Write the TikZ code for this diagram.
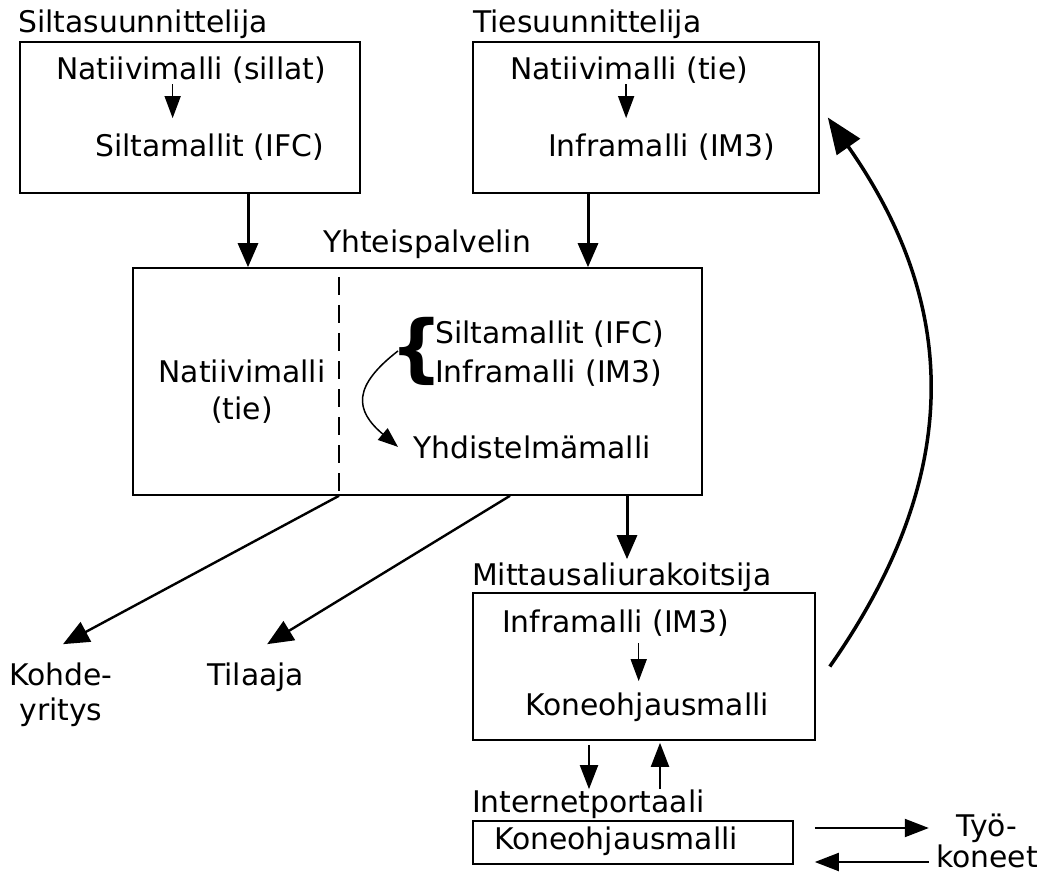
\documentclass[tikz,border=0pt]{standalone}
\usepackage{fontspec}
\setmainfont{DejaVu Sans}
\usetikzlibrary{arrows.meta}

\begin{document}
\begin{tikzpicture}[x=1pt,y=-1pt]
  \tikzset{box/.style = {draw,line width=1.6pt,inner sep=0pt}}
  \tikzset{txt/.style = {font=\fontsize{29.8}{36}\selectfont,inner sep=0pt,anchor=base west}}
  \tikzset{two/.style = {font=\fontsize{29.8}{#1}\selectfont,inner sep=0pt,anchor=base,align=center}}
  \tikzset{bigarrow/.style = {line width=3pt,-{Triangle[length=24pt,width=20pt]}}}
  \tikzset{diagarrow/.style = {line width=2.4pt,-{Triangle[length=26pt,width=22pt]}}}
  \tikzset{midarrow/.style = {line width=2pt,-{Triangle[length=24pt,width=18pt]}}}
  \tikzset{smallarrow/.style = {line width=1.5pt,-{Triangle[length=22pt,width=16pt]}}}
  \tikzset{thinarrow/.style = {line width=1.5pt,-{Triangle[length=20pt,width=15pt]}}}
  \tikzset{backarrow/.style = {line width=3.5pt,-{Triangle[length=36pt,width=28pt]}}}

  \useasboundingbox (0,0) rectangle (1046,874);

	\node[box,minimum width=340pt,minimum height=151pt] (silta) at (190,117.5) {};
	\node[box,minimum width=346pt,minimum height=151pt] (tie) at (646,117.5) {};
	\node[box,minimum width=569pt,minimum height=227pt] (yht) at (417.5,381.5) {};
	\node[box,minimum width=342pt,minimum height=147pt] (mit) at (644,666.5) {};
	\node[box,minimum width=320pt,minimum height=43pt] (portaali) at (633,842.5) {};

	\node[txt] (siltaLbl) at (18,33) {Siltasuunnittelija};
	\node[txt] (natSil) at (56,80) {Natiivimalli (sillat)};
	\node[txt] (silIfc) at (95,157) {Siltamallit (IFC)};
	\node[txt] (tieLbl) at (473,33) {Tiesuunnittelija};
	\node[txt] (natTie) at (510,80) {Natiivimalli (tie)};
	\node[txt] (infTie) at (548,157) {Inframalli (IM3)};

	\node[txt] (yhtLbl) at (323,253) {Yhteispalvelin};
	\node[two=37pt] (natYht) at (242,419) {Natiivimalli\\(tie)};
	\node[txt,font=\fontsize{74}{74}\selectfont\bfseries] (brace) at (390,373) {\{};
	\node[txt,align=left,font=\fontsize{29.8}{39}\selectfont] (osat) at (435,382) {Siltamallit (IFC)\\Inframalli (IM3)};
	\node[txt] (yhd) at (413,458) {Yhdistelmämalli};

	\node[two=35pt] (kohde) at (61,720) {Kohde-\\yritys};
	\node[txt] (tilaaja) at (207,685) {Tilaaja};

	\node[txt] (mitLbl) at (472,585) {Mittausaliurakoitsija};
	\node[txt] (infMit) at (502,632) {Inframalli (IM3)};
	\node[txt] (koneMit) at (525,715) {Koneohjausmalli};
	\node[txt] (ipLbl) at (472,812) {Internetportaali};
	\node[txt] (konePor) at (494,849) {Koneohjausmalli};
	\node[two=31pt] (tyo) at (987,867) {Työ-\\koneet};

	\coordinate (dtop) at (339,277);
	\draw[line width=2pt,dash pattern=on 18pt off 10pt] (dtop) -- (dtop |- yht.south);

	% inside the boxes
	\draw[smallarrow,shorten >=16pt] ([xshift=-18.5pt]natSil.south) -- ([xshift=-18.5pt]natSil.south |- silIfc.north);
	\draw[smallarrow,shorten >=16pt] ([xshift=-3pt]natTie.south) -- ([xshift=-3pt]natTie.south |- infTie.north);
	\draw[smallarrow,shorten <=7pt,shorten >=11pt] ([xshift=23pt]infMit.south) -- ([xshift=23pt]infMit.south |- koneMit.north);
	\draw[thinarrow] ([xshift=8pt]brace.west) .. controls +(-45,35) and +(-44,-37) .. ([xshift=-15pt]yhd.west);

	% between the parties
       \foreach \src/\dx in {silta/58pt,tie/-58pt}
    \draw[bigarrow] ([xshift=\dx]\src.south) -- ([xshift=\dx]\src.south |- yht.north);
	\draw[bigarrow,shorten >=3pt] ([xshift=209.5pt]yht.south) -- ([xshift=209.5pt]yht.south |- mitLbl.north);
	\draw[diagarrow] (dtop |- yht.south) -- ([xshift=2pt,yshift=18pt]kohde.north);
	\draw[diagarrow] ([xshift=92.5pt]yht.south) -- ([xshift=11.5pt,yshift=18pt]tilaaja.north);
	\draw[backarrow] ([xshift=14pt]mit.east) .. controls +(132,-188) and +(134,191) .. ([xshift=8pt]tie.east);
	\draw[midarrow,shorten <=4pt] ([xshift=-55pt]mit.south) -- ([xshift=-55pt]mit.south |- ipLbl.north);
	\draw[midarrow,shorten >=2pt] ([xshift=16pt]mit.south |- ipLbl.north) -- ([xshift=16pt]mit.south);
	\draw[midarrow] ([xshift=21pt,yshift=14.5pt]portaali.east) -- ++(114,0);
	\draw[midarrow] ([xshift=135pt,yshift=-19.5pt]portaali.east) -- ++(-114,0);
\end{tikzpicture}
\end{document}
